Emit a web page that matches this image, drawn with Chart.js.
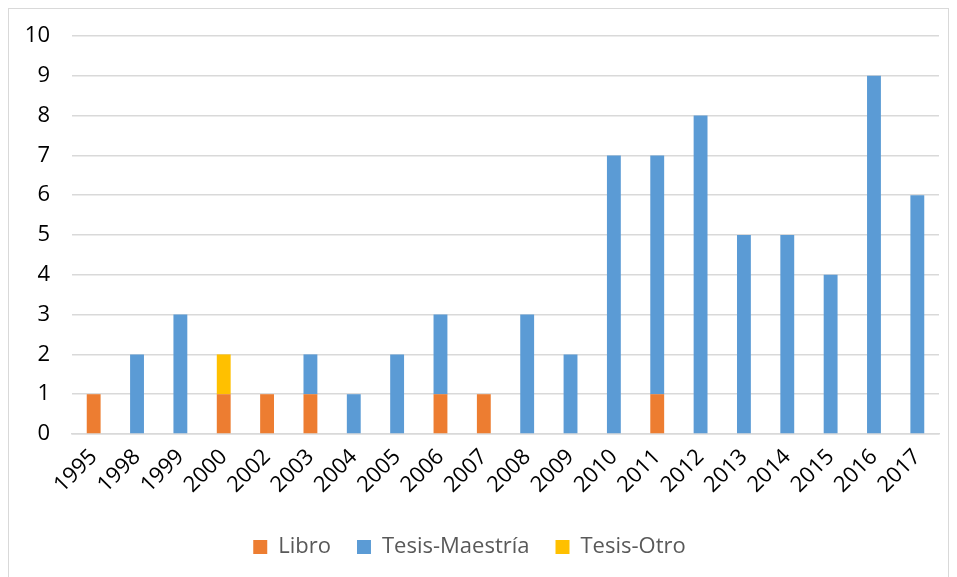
<!DOCTYPE html>
<html>
  <head>
    <meta charset="utf-8">
    <title>Publicaciones por año</title>
    <script src="https://cdn.jsdelivr.net/npm/chart.js"></script>
    <style>
      body { margin: 0; background: #fff; }
      #frame { position: absolute; left: 8px; top: 8px; width: 941px; height: 580px; border: 1px solid #d9d9d9; box-sizing: border-box; }
      #wrap { position: absolute; left: 0; top: 0; width: 957px; height: 577px; }
    </style>
  </head>
  <body>
    <div id="frame"></div>
    <div id="wrap"><canvas id="chart"></canvas></div>
    <script>
      const years = ['1995','1998','1999','2000','2002','2003','2004','2005','2006','2007','2008','2009','2010','2011','2012','2013','2014','2015','2016','2017'];
      const libro = [1,0,0,1,1,1,0,0,1,1,0,0,0,1,0,0,0,0,0,0];
      const tesisMaestria = [0,2,3,0,0,1,1,2,2,0,3,2,7,6,8,5,5,4,9,6];
      const tesisOtro = [0,0,0,1,0,0,0,0,0,0,0,0,0,0,0,0,0,0,0,0];
      const yTicks = [0,1,2,3,4,5,6,7,8,9,10];

      const font = "'Open Sans', 'Liberation Sans', sans-serif";

      new Chart(document.getElementById('chart'), {
        type: 'bar',
        data: {
          labels: years,
          datasets: [
            { label: 'Libro', data: libro, backgroundColor: '#ED7D31' },
            { label: 'Tesis-Maestría', data: tesisMaestria, backgroundColor: '#5B9BD5' },
            { label: 'Tesis-Otro', data: tesisOtro, backgroundColor: '#FFC000' }
          ]
        },
        options: {
          responsive: true,
          maintainAspectRatio: false,
          animation: false,
          datasets: { bar: { barPercentage: 0.64, categoryPercentage: 0.5 } },
          layout: { padding: { left: 0, right: 18, top: 36, bottom: 9 } },
          plugins: {
            tooltip: { enabled: false },
            legend: {
              position: 'bottom',
              labels: {
                color: '#595959',
                font: { family: font, size: 22 },
                boxWidth: 14,
                boxHeight: 14,
                padding: 26
              }
            }
          },
          scales: {
            x: {
              stacked: true,
              grid: { display: false },
              border: { color: '#d9d9d9', width: 1.5 },
              ticks: {
                color: '#000',
                font: { family: font, size: 22 },
                maxRotation: 45,
                minRotation: 45,
                padding: 2
              },
              afterFit: (s) => { s.height = 76; }
            },
            y: {
              stacked: true,
              min: 0,
              max: 10,
              afterBuildTicks: (s) => { s.ticks = yTicks.map(v => ({ value: v })); },
              grid: { color: '#d9d9d9', lineWidth: 1.5, drawTicks: false },
              border: { display: false },
              ticks: {
                color: '#000',
                font: { family: font, size: 22 },
                padding: 22
              },
              afterFit: (s) => { s.width = 72; }
            }
          }
        }
      });
    </script>
  </body>
</html>
